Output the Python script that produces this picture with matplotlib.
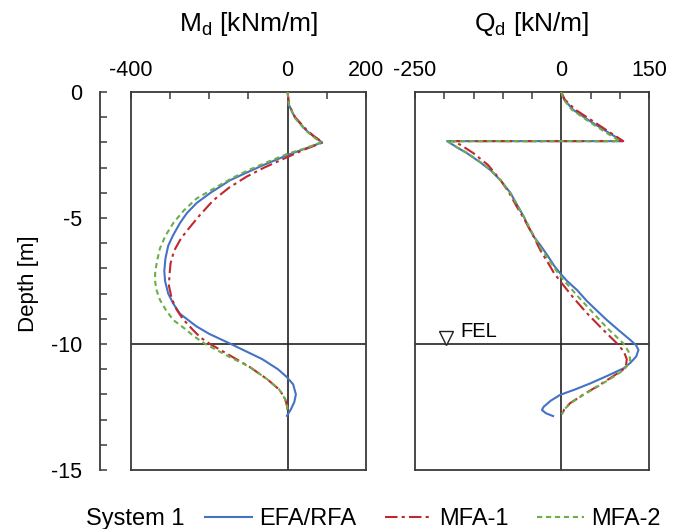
import matplotlib
matplotlib.use("Agg")
import matplotlib.pyplot as plt
from matplotlib.ticker import MultipleLocator, FixedLocator, FixedFormatter
from matplotlib.lines import Line2D

plt.rcParams['font.family'] = ['Liberation Sans', 'DejaVu Sans']
plt.rcParams['mathtext.fontset'] = 'custom'
plt.rcParams['mathtext.rm'] = 'Liberation Sans'
plt.rcParams['mathtext.it'] = 'Liberation Sans:italic'
plt.rcParams['axes.unicode_minus'] = False

# ---------------- data ----------------
# Bending moment M_d [kNm/m] vs depth [m]
m_efa_depth = [0, -0.5, -1.0, -1.5, -1.75, -2.0, -2.25, -2.5, -2.9, -3.2, -3.5, -4.0, -4.4, -4.8, -5.2,
               -5.7, -6.1, -6.6, -7.1, -7.5, -8.0, -8.4, -8.8, -9.3, -9.6, -10.0, -10.3, -10.6, -11.0,
               -11.3, -11.6, -12.0, -12.3, -12.6, -12.85]
m_efa = [0, 3, 18, 46, 65, 88, 44, 0, -62, -105, -147, -197, -232, -257, -275,
         -293, -305, -312, -315, -313, -305, -292, -275, -233, -200, -145, -105, -65, -25,
         -3, 14, 21, 17, 8, -2]

m_mfa1_depth = [0, -0.5, -1.0, -1.5, -1.75, -2.0, -2.3, -2.6, -3.0, -3.36, -3.8, -4.3, -4.9, -5.35,
                -5.8, -6.3, -6.8, -7.3, -7.7, -8.2, -8.65, -9.0, -9.44, -9.75, -10.0, -10.44, -10.9,
                -11.4, -11.83, -12.2, -12.5, -12.75]
m_mfa1 = [0, 3, 19, 48, 67, 90, 40, -3, -60, -105, -150, -190, -225, -249,
          -272, -290, -299, -302, -303, -296, -283, -268, -242, -222, -198, -149, -98,
          -52, -20, -6, -1, 0]

m_mfa2_depth = [0, -0.5, -1.0, -1.5, -1.75, -2.0, -2.25, -2.45, -2.8, -3.1, -3.4, -3.8, -4.22, -4.7,
                -5.2, -5.7, -6.2, -6.67, -7.1, -7.46, -7.85, -8.25, -8.65, -9.05, -9.4, -9.71, -10.0,
                -10.5, -10.9, -11.4, -11.8, -12.2, -12.5, -12.7]
m_mfa2 = [0, 3, 17, 44, 63, 85, 42, 0, -55, -100, -140, -185, -232, -265,
          -292, -312, -326, -333, -338, -339, -335, -326, -311, -292, -262, -238, -210,
          -150, -98, -52, -22, -6, -1, 0]

# Shear force Q_d [kN/m] vs depth [m]
q_efa_depth = [0, -0.3, -0.7, -1.2, -1.6, -1.95, -1.95, -2.2, -2.43, -2.8, -3.1, -3.5, -4.0, -4.5, -4.95,
               -5.35, -5.74, -6.1, -6.54, -6.9, -7.19, -7.5, -7.86, -8.3, -8.7, -9.05, -9.45, -9.84,
               -10.05, -10.24, -10.5, -10.75, -10.96, -11.25, -11.56, -11.8, -12.02, -12.25, -12.49,
               -12.62, -12.75, -12.86]
q_efa = [0, 5, 20, 52, 80, 105, -195, -178, -161, -138, -121, -104, -87, -75, -64,
         -56, -47, -35, -22, -12, -2, 10, 27, 44, 62, 78, 98, 118,
         128, 132, 128, 118, 107, 80, 50, 24, -2, -18, -30,
         -33, -26, -14]

q_mfa1_depth = [0, -0.3, -0.7, -1.2, -1.6, -1.95, -1.95, -2.1, -2.43, -2.9, -3.49, -4.0, -4.55, -5.1,
                -5.74, -6.27, -6.8, -7.2, -7.59, -8.2, -8.78, -9.4, -9.97, -10.3, -10.6, -10.8, -11.03,
                -11.35, -11.69, -12.0, -12.35, -12.6, -12.82]
q_mfa1 = [0, 6, 24, 57, 83, 106, -185, -172, -150, -125, -104, -89, -76, -62,
          -47, -36, -22, -12, 1, 22, 44, 70, 95, 107, 112, 111, 105,
          84, 61, 38, 15, 5, 1]

q_mfa2_depth = [0, -0.3, -0.7, -1.2, -1.6, -1.95, -1.95, -2.2, -2.43, -2.8, -3.1, -3.5, -4.0, -4.5, -4.95,
                -5.35, -5.74, -6.27, -6.8, -7.2, -7.46, -8.1, -8.78, -9.4, -9.97, -10.3, -10.63,
                -10.85, -11.03, -11.35, -11.69, -12.0, -12.35, -12.6, -12.8]
q_mfa2 = [0, 4, 18, 49, 76, 100, -195, -178, -160, -137, -120, -104, -87, -75, -64,
          -55, -46, -33, -17, -5, 4, 28, 55, 80, 106, 115, 118,
          113, 107, 86, 62, 39, 16, 5, 1]

series_labels = ['EFA/RFA', 'MFA-1', 'MFA-2']
legend_title = 'System 1'
fel_label = 'FEL'
fel_depth = -9.75
fel_q = -197

m_xticks = [-400, -300, -200, -100, 0, 100, 200]
m_xlabels = ['-400', '', '', '', '0', '', '200']
q_xticks = [-250, -200, -150, -100, -50, 0, 50, 100, 150]
q_xlabels = ['-250', '', '', '', '', '0', '', '', '150']
depth_ticks = [0, -5, -10, -15]

# ---------------- styles ----------------
W, H = 681, 529
c_blue = '#4472C4'
c_red = '#C0282D'
c_green = '#6FAD47'
frame_c = '#3a3a3a'
styles = [dict(color=c_blue, lw=1.5, ls='-'),
          dict(color=c_red, lw=1.5, ls=(0, (6, 2, 1.5, 2))),
          dict(color=c_green, lw=1.5, ls=(0, (2.5, 1.8)))]

fig = plt.figure(figsize=(W / 100, H / 100), dpi=100)
ax1 = fig.add_axes([131 / W, 59 / H, 235 / W, 378 / H])
ax2 = fig.add_axes([415 / W, 59 / H, 234 / W, 378 / H])


def style_ax(ax, xlim, ticks, labels):
    ax.set_xlim(*xlim)
    ax.set_ylim(-15, 0)
    ax.xaxis.set_ticks_position('top')
    ax.xaxis.set_label_position('top')
    ax.xaxis.set_major_locator(FixedLocator(ticks))
    ax.xaxis.set_major_formatter(FixedFormatter(labels))
    ax.tick_params(axis='x', direction='in', length=5, width=1.1, color=frame_c,
                   labelsize=15.5, pad=8)
    ax.set_yticks([])
    for s in ax.spines.values():
        s.set_color(frame_c)
        s.set_linewidth(1.3)
    ax.axvline(0, color='#222222', lw=1.2, zorder=1)
    ax.axhline(-10, color='#222222', lw=1.2, zorder=1)


style_ax(ax1, (-400, 200), m_xticks, m_xlabels)
style_ax(ax2, (-250, 150), q_xticks, q_xlabels)

for d, v, st in zip([m_efa_depth, m_mfa1_depth, m_mfa2_depth], [m_efa, m_mfa1, m_mfa2], styles):
    ax1.plot(v, d, zorder=3, **st)
for d, v, st in zip([q_efa_depth, q_mfa1_depth, q_mfa2_depth], [q_efa, q_mfa1, q_mfa2], styles):
    ax2.plot(v, d, zorder=3, **st)

# FEL marker
ax2.plot([fel_q], [fel_depth], marker='v', ms=10, mfc='white', mec='#222222', mew=1.0, zorder=4)
ax2.text(fel_q + 24, fel_depth + 0.02, fel_label, fontsize=14.5, ha='left', va='baseline')

# Depth axis (detached)
sec = ax1.secondary_yaxis(-31 / 235)
sec.set_yticks(depth_ticks)
sec.yaxis.set_minor_locator(MultipleLocator(1))
sec.tick_params(axis='y', which='both', direction='in', length=5, width=1.1, color=frame_c,
                labelsize=15.5, pad=13)
sec.spines['left'].set_color(frame_c)
sec.spines['left'].set_linewidth(1.3)

fig.text(28.5 / W, 1 - 284 / H, 'Depth [m]', rotation=90, ha='center', va='center', fontsize=16)

# Titles
fig.text(248.5 / W, 1 - 31 / H, r'M$_\mathrm{d}$ [kNm/m]', ha='center', va='baseline', fontsize=19)
fig.text(532 / W, 1 - 31 / H, r'Q$_\mathrm{d}$ [kN/m]', ha='center', va='baseline', fontsize=19)

# Legend
fig.text(86 / W, 1 - 519 / H, legend_title, ha='left', va='center', fontsize=17)
handles = [Line2D([], [], **st) for st in styles]
fig.legend(handles, series_labels, loc='center left', bbox_to_anchor=(205 / W, 1 - 519 / H),
           ncol=3, frameon=False, fontsize=17, handlelength=2.0, handletextpad=0.3,
           columnspacing=1.2, borderpad=0, borderaxespad=0)

fig.savefig('out.png', dpi=100)
